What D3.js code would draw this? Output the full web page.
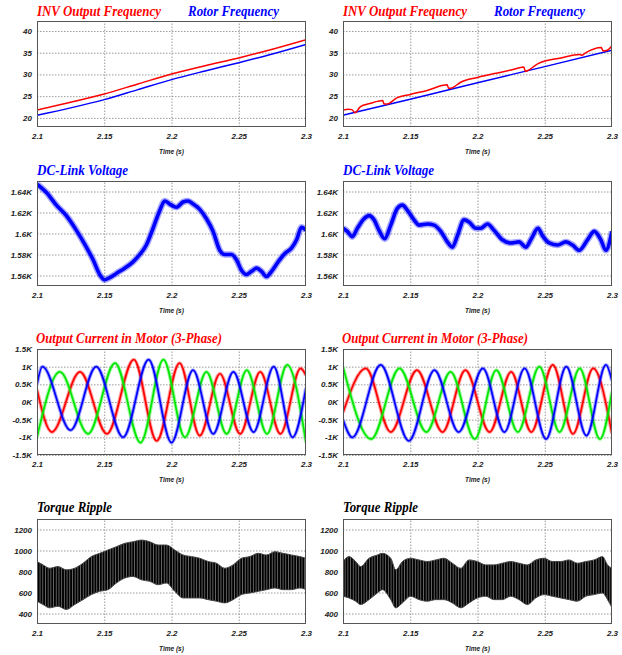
<!DOCTYPE html>
<html>
<head>
<meta charset="utf-8">
<script src="https://cdn.jsdelivr.net/npm/d3@7"></script>
<style>
  body { margin: 0; background: #fff; }
  .tick text { font-family: "Liberation Sans", Arial, sans-serif; font-weight: bold; font-style: italic; font-size: 8px; fill: #222; }
  .title { font-family: "Liberation Serif", "Times New Roman", serif; font-weight: bold; font-style: italic; font-size: 15px; }
  .xname { font-family: "Liberation Sans", Arial, sans-serif; font-weight: bold; font-style: italic; font-size: 6.5px; fill: #222; }
</style>
</head>
<body>
<script>
// shared time axis
const timeTicks = [2.1, 2.15, 2.2, 2.25, 2.3];
const timeLabels = ['2.1', '2.15', '2.2', '2.25', '2.3'];

// y ticks per row
const freqTicks = [20, 25, 30, 35, 40];
const dcTicks = [1560, 1580, 1600, 1620, 1640];
const curTicks = [-1500, -1000, -500, 0, 500, 1000, 1500];
const torqTicks = [400, 600, 800, 1000, 1200];

// frequencies (Hz), [time, value]  -- A = left case, B = right case
const invFreqA = [[2.1,21.8],[2.125,23.6],[2.15,25.5],[2.175,27.8],[2.2,30.1],[2.225,32.0],[2.25,33.8],[2.275,35.8],[2.3,38.0]];
const rotorFreqA = [[2.1,20.6],[2.125,22.3],[2.15,24.2],[2.175,26.5],[2.2,28.8],[2.225,30.8],[2.25,32.7],[2.275,34.7],[2.3,36.9]];
const invFreqB = [[2.1,21.8],[2.104,22.0],[2.1065,21.9],[2.109,21.2],[2.113,22.6],[2.12,23.3],[2.1255,23.8],[2.1295,24.0],[2.1305,23.2],
  [2.133,23.2],[2.14,24.6],[2.15,25.4],[2.1625,26.3],[2.1775,27.6],[2.1785,26.8],[2.181,26.9],[2.1875,28.2],[2.2,29.3],[2.2125,30.2],
  [2.225,31.0],[2.2345,31.7],[2.2355,30.7],[2.238,31.0],[2.245,32.5],[2.262,33.8],[2.276,34.6],[2.2775,34.4],[2.28,34.9],[2.292,36.2],
  [2.2935,35.4],[2.296,35.5],[2.3,36.6]];
const rotorFreqB = [[2.1,20.6],[2.15,24.3],[2.2,28.1],[2.25,31.8],[2.3,35.6]];

// DC-link voltage (V)
const dcLinkA = [[2.1,1647],[2.107,1639],[2.1144,1627],[2.1218,1617],[2.1293,1603],[2.1367,1587],[2.1417,1575],[2.1466,1561],[2.1503,1556],
  [2.1541,1558],[2.159,1562],[2.1652,1567],[2.1714,1573],[2.1764,1580],[2.1813,1589],[2.1863,1605],[2.1913,1622],[2.195,1631],[2.1987,1628],
  [2.2037,1625],[2.2086,1630],[2.2123,1631],[2.2161,1628],[2.221,1623],[2.226,1614],[2.2309,1602],[2.2359,1584],[2.2396,1580],[2.2446,1580],
  [2.2483,1575],[2.252,1565],[2.2557,1561],[2.2595,1564],[2.2632,1567],[2.2669,1564],[2.2706,1559],[2.2744,1564],[2.2793,1573],[2.2843,1581],
  [2.2892,1586],[2.293,1594],[2.2967,1606],[2.3,1603]];
const dcLinkB = [[2.1,1605],[2.1032,1602],[2.1069,1597],[2.1107,1605],[2.1156,1614],[2.1193,1617],[2.1231,1613],[2.1268,1603],[2.131,1595],
  [2.1355,1608],[2.1404,1624],[2.1442,1627],[2.1479,1622],[2.1528,1613],[2.1566,1608],[2.1627,1609],[2.1677,1608],[2.1727,1602],[2.1776,1592],
  [2.1813,1587],[2.1851,1598],[2.19,1613],[2.1937,1611],[2.1987,1605],[2.2024,1605],[2.2074,1609],[2.2123,1603],[2.2185,1594],[2.2247,1591],
  [2.2309,1592],[2.2359,1587],[2.24,1595],[2.245,1605],[2.2483,1598],[2.2533,1591],[2.2595,1589],[2.2657,1592],[2.2707,1589],[2.2756,1584],
  [2.2818,1594],[2.2868,1602],[2.2917,1594],[2.2954,1584],[2.3,1602]];

// motor phase currents (A), peaks / troughs
const curRedA = [[2.1,350],[2.111,-850],[2.132,850],[2.152,-900],[2.172,1200],[2.189,-1100],[2.206,1100],[2.221,-950],[2.236,800],[2.251,-900],[2.266,850],[2.281,-900],[2.296,950],[2.3,750]];
const curBlueA = [[2.1,500],[2.104,1000],[2.125,-800],[2.144,1000],[2.164,-1000],[2.183,1200],[2.2,-1150],[2.216,900],[2.231,-900],[2.246,850],[2.261,-850],[2.276,1000],[2.29,-1000],[2.3,400]];
const curGreenA = [[2.1,-1000],[2.117,850],[2.138,-900],[2.158,1100],[2.177,-1150],[2.194,1200],[2.21,-1000],[2.226,850],[2.241,-900],[2.256,900],[2.271,-900],[2.286,1050],[2.3,-1150]];
const curRedB = [[2.1,-300],[2.117,950],[2.1355,-850],[2.155,900],[2.174,-850],[2.191,900],[2.209,-850],[2.225,850],[2.24,-850],[2.256,1050],[2.271,-900],[2.286,950],[2.3,-900]];
const curBlueB = [[2.1,-500],[2.107,-1000],[2.128,1050],[2.149,-1100],[2.168,900],[2.186,-850],[2.204,950],[2.22,-850],[2.235,950],[2.251,-1050],[2.266,1000],[2.281,-950],[2.2955,1050],[2.3,600]];
const curGreenB = [[2.1,1000],[2.121,-1050],[2.142,950],[2.162,-850],[2.18,850],[2.198,-1050],[2.214,900],[2.23,-850],[2.246,1000],[2.261,-850],[2.276,950],[2.291,-1050],[2.3,300]];

// torque ripple envelope, [time, upper, lower]
const torqueA = [[2.1,895,517],[2.1045,863,485],[2.1094,831,454],[2.1156,847,469],[2.1218,816,438],[2.128,831,485],[2.1342,879,532],
  [2.1404,942,580],[2.1466,973,611],[2.1528,1005,627],[2.159,1036,690],[2.1652,1068,737],[2.1714,1083,753],[2.1776,1099,721],[2.1838,1083,706],
  [2.19,1052,674],[2.1962,1052,690],[2.2024,1005,611],[2.2086,957,548],[2.2148,942,548],[2.221,926,548],[2.2272,895,532],[2.2334,879,517],
  [2.2396,831,501],[2.2458,863,532],[2.252,926,580],[2.2582,942,595],[2.2644,973,611],[2.2706,957,627],[2.2768,989,643],[2.283,973,627],
  [2.2892,957,627],[2.2954,942,643],[2.3,926,627]];
const torqueB = [[2.1,895,564],[2.1045,942,548],[2.1094,895,517],[2.1131,847,485],[2.1193,926,532],[2.1255,957,595],[2.1293,973,627],
  [2.1355,926,532],[2.1392,816,454],[2.1442,895,501],[2.1503,926,564],[2.1565,910,532],[2.1627,895,517],[2.1689,910,532],[2.1751,926,532],
  [2.1813,879,501],[2.1875,831,454],[2.1937,910,501],[2.1999,895,548],[2.2061,863,564],[2.2123,863,532],[2.2185,879,532],[2.2247,895,564],
  [2.2309,879,532],[2.2371,863,485],[2.2433,910,548],[2.2495,926,580],[2.2557,895,564],[2.2619,895,548],[2.2681,910,532],[2.2743,879,517],
  [2.2805,895,564],[2.2867,910,580],[2.2929,942,595],[2.2967,863,532],[2.3,831,454]];

const RED = '#ff0000', BLUE = '#0000ff', GREEN = '#00e800';

const svg = d3.select('body').append('svg').attr('width', 622).attr('height', 655);

// ripple texture for torque band
const pat = svg.append('defs').append('pattern')
  .attr('id', 'ripple').attr('patternUnits', 'userSpaceOnUse')
  .attr('width', 2.7).attr('height', 10);
pat.append('rect').attr('width', 2.7).attr('height', 10).attr('fill', '#000');
pat.append('rect').attr('x', 1.8).attr('width', 0.6).attr('height', 10).attr('fill', '#9a9a9a');

const cols = [{x0: 37, x1: 306}, {x0: 343, x1: 612}];
const rows = [{y0: 21, y1: 127}, {y0: 181, y1: 286}, {y0: 349, y1: 455}, {y0: 519, y1: 624}];

const kFmt = v => (v / 1000) + 'K';
let clipId = 0;

function panel(col, row, domain, ticks, fmt, titles) {
  const x = d3.scaleLinear().domain([2.1, 2.3]).range([col.x0, col.x1]);
  const y = d3.scaleLinear().domain(domain).range([row.y1, row.y0]);
  const w = col.x1 - col.x0, h = row.y1 - row.y0;
  const g = svg.append('g');

  g.append('rect').attr('x', col.x0).attr('y', row.y0).attr('width', w).attr('height', h).attr('fill', '#fff');

  // dotted grid
  const gx = g.append('g').attr('transform', `translate(0,${row.y1})`)
    .call(d3.axisBottom(x).tickValues(timeTicks.slice(1, -1)).tickSize(-h).tickFormat(''));
  const gy = g.append('g').attr('transform', `translate(${col.x0},0)`)
    .call(d3.axisLeft(y).tickValues(ticks).tickSize(-w).tickFormat(''));
  [gx, gy].forEach(a => {
    a.select('.domain').remove();
    a.selectAll('line').attr('stroke', '#9a9a9a').attr('stroke-dasharray', '1.5,1.5');
  });

  // labels
  const lx = g.append('g').attr('transform', `translate(0,${row.y1 + 4})`)
    .call(d3.axisBottom(x).tickValues(timeTicks).tickSize(0).tickPadding(2)
      .tickFormat((d, i) => timeLabels[i]));
  const ly = g.append('g').attr('transform', `translate(${col.x0 - 5},0)`)
    .call(d3.axisLeft(y).tickValues(ticks).tickSize(0).tickPadding(0).tickFormat(fmt));
  [lx, ly].forEach(a => a.select('.domain').remove());

  g.append('text').attr('class', 'xname').attr('x', (col.x0 + col.x1) / 2).attr('y', row.y1 + 27)
    .attr('text-anchor', 'middle').text('Time (s)');

  titles.forEach(t => {
    g.append('text').attr('class', 'title').attr('x', col.x0 + t.dx).attr('y', row.y0 - t.dy)
      .attr('fill', t.color).attr('textLength', t.len).attr('lengthAdjust', 'spacingAndGlyphs').text(t.text);
  });

  const id = 'clip' + (clipId++);
  svg.append('clipPath').attr('id', id).append('rect')
    .attr('x', col.x0).attr('y', row.y0).attr('width', w).attr('height', h);
  const plot = g.append('g').attr('clip-path', `url(#${id})`);

  g.append('rect').attr('x', col.x0 + 0.5).attr('y', row.y0 + 0.5).attr('width', w - 1).attr('height', h - 1)
    .attr('fill', 'none').attr('stroke', '#555').attr('stroke-width', 1);

  return {x, y, plot};
}

// halo = wider faint stroke under the trace, gives the noisy look of the scope traces
function line(p, data, color, width, halo) {
  const gen = d3.line().x(d => p.x(d[0])).y(d => p.y(d[1])).curve(d3.curveMonotoneX);
  if (halo) {
    p.plot.append('path').datum(data)
      .attr('fill', 'none').attr('stroke', color).attr('stroke-opacity', 0.35)
      .attr('stroke-width', halo).attr('stroke-linejoin', 'round').attr('d', gen);
  }
  p.plot.append('path').datum(data)
    .attr('fill', 'none').attr('stroke', color).attr('stroke-width', width).attr('stroke-linejoin', 'round')
    .attr('d', gen);
}

function band(p, data) {
  p.plot.append('path').datum(data)
    .attr('fill', 'url(#ripple)').attr('stroke', '#444').attr('stroke-width', 1)
    .attr('d', d3.area().x(d => p.x(d[0])).y0(d => p.y(d[2])).y1(d => p.y(d[1])).curve(d3.curveMonotoneX));
}

const freqTitles = [
  {text: 'INV Output Frequency', color: RED, dx: 0, dy: 5, len: 124},
  {text: 'Rotor Frequency', color: BLUE, dx: 151, dy: 5, len: 91}
];
const dcTitle = [{text: 'DC-Link Voltage', color: BLUE, dx: 0, dy: 6, len: 91}];
const curTitle = [{text: 'Output Current in Motor (3-Phase)', color: RED, dx: -1, dy: 6, len: 186}];
const torqTitle = [{text: 'Torque Ripple', color: '#000', dx: 0, dy: 7, len: 75}];

const freqSets = [[invFreqA, rotorFreqA], [invFreqB, rotorFreqB]];
const dcSets = [dcLinkA, dcLinkB];
const curSets = [[curRedA, curGreenA, curBlueA], [curRedB, curGreenB, curBlueB]];
const torqSets = [torqueA, torqueB];

cols.forEach((col, c) => {
  const p1 = panel(col, rows[0], [17.9, 42.3], freqTicks, d => d, freqTitles);
  line(p1, freqSets[c][1], BLUE, 1.5);
  line(p1, freqSets[c][0], RED, 1.5);

  const p2 = panel(col, rows[1], [1550, 1650], dcTicks, kFmt, dcTitle);
  line(p2, dcSets[c], BLUE, 3.6, 6.5);

  const p3 = panel(col, rows[2], [-1500, 1500], curTicks, kFmt, curTitle);
  line(p3, curSets[c][0], RED, 1.7, 3.8);
  line(p3, curSets[c][1], GREEN, 1.7, 3.8);
  line(p3, curSets[c][2], BLUE, 1.7, 3.8);

  const p4 = panel(col, rows[3], [300, 1300], torqTicks, d => d, torqTitle);
  band(p4, torqSets[c]);
});
</script>
</body>
</html>
